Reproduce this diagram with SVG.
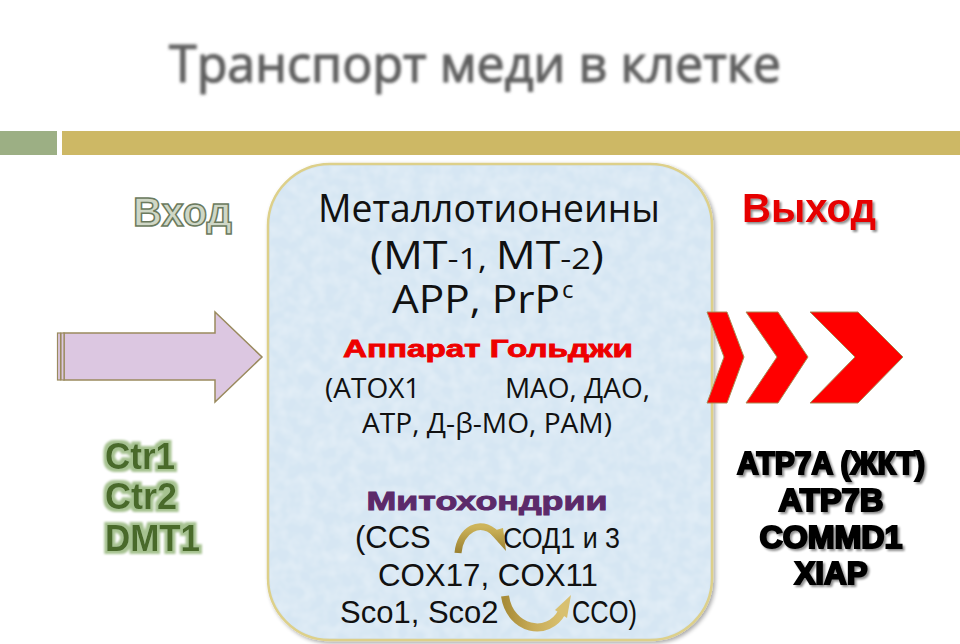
<svg xmlns="http://www.w3.org/2000/svg" width="960" height="644" viewBox="0 0 960 644">
<defs>
<filter id="blur" x="-5%" y="-20%" width="110%" height="140%"><feGaussianBlur stdDeviation="1.4"/></filter>
<filter id="shadow" x="-10%" y="-20%" width="130%" height="150%"><feGaussianBlur in="SourceAlpha" stdDeviation="1.2"/><feOffset dx="1.5" dy="1.5"/><feComponentTransfer><feFuncA type="linear" slope="0.45"/></feComponentTransfer><feMerge><feMergeNode/><feMergeNode in="SourceGraphic"/></feMerge></filter>
<filter id="glow" x="-10%" y="-20%" width="120%" height="140%"><feMorphology in="SourceAlpha" operator="dilate" radius="2.5" result="d"/><feGaussianBlur in="d" stdDeviation="1.2" result="b"/><feFlood flood-color="#a6c290"/><feComposite in2="b" operator="in"/><feMerge><feMergeNode/><feMergeNode in="SourceGraphic"/></feMerge></filter>
<filter id="boxsh" x="-5%" y="-5%" width="110%" height="110%"><feGaussianBlur in="SourceAlpha" stdDeviation="2"/><feOffset dx="2" dy="2"/><feComponentTransfer><feFuncA type="linear" slope="0.35"/></feComponentTransfer><feMerge><feMergeNode/><feMergeNode in="SourceGraphic"/></feMerge></filter>
<filter id="tex" x="0" y="0" width="100%" height="100%"><feTurbulence type="fractalNoise" baseFrequency="0.08" numOctaves="2" seed="3" result="n"/><feColorMatrix in="n" type="matrix" values="0 0 0 0 1  0 0 0 0 1  0 0 0 0 1  0 0 0 0.5 -0.15" result="w"/><feComposite in="w" in2="SourceGraphic" operator="in" result="wc"/><feMerge><feMergeNode in="SourceGraphic"/><feMergeNode in="wc"/></feMerge></filter>
<linearGradient id="gold" x1="0" y1="0" x2="0" y2="1"><stop offset="0" stop-color="#cdb45a"/><stop offset="1" stop-color="#9a8030"/></linearGradient>
<linearGradient id="gold2" x1="0" y1="0" x2="1" y2="0"><stop offset="0" stop-color="#a88c38"/><stop offset="0.5" stop-color="#c8ac58"/><stop offset="1" stop-color="#d8c070"/></linearGradient>
</defs>
<style>
.cal{font-family:"Open Sans","Noto Sans","DejaVu Sans",sans-serif;fill:#111}
.ar{font-family:"Liberation Sans",Arial,sans-serif;fill:#111}
.hv{font-family:"Liberation Sans",Arial,sans-serif;font-weight:bold}
.atp{font-family:"Liberation Sans",Arial,sans-serif;font-weight:bold;fill:#000;stroke:#000;stroke-width:2}
.ctr{font-family:"Liberation Sans",Arial,sans-serif;font-weight:bold;fill:#4a6a2c;font-size:36px}
.chev{fill:#ff0000;stroke:#a88a55;stroke-width:1}
</style>
<rect width="960" height="644" fill="#ffffff"/>
<g id="title">
<text x="475" y="82" text-anchor="middle" font-family="Open Sans, Noto Sans, sans-serif" font-size="52" fill="#5e5e5e" stroke="#5e5e5e" stroke-width="1.2" textLength="612" lengthAdjust="spacingAndGlyphs" filter="url(#blur)">Транспорт меди в клетке</text>
</g>
<g id="bars">
<rect x="0" y="131" width="57" height="24" fill="#9caf84"/>
<rect x="62" y="131" width="898" height="24" fill="#cdb865"/>
</g>
<g id="cell">
<rect x="268" y="164" width="444" height="476" rx="62" ry="62" fill="#d4e5f3" stroke="#ddd08a" stroke-width="2.5" filter="url(#boxsh)"/>
<rect x="270" y="166" width="440" height="472" rx="60" ry="60" fill="#d6e6f3" filter="url(#tex)"/>
<text class="cal" x="489" y="222" text-anchor="middle" font-size="38" textLength="342" lengthAdjust="spacingAndGlyphs">Металлотионеины</text>
<text class="cal" x="487" y="269" text-anchor="middle" font-size="39" textLength="234" lengthAdjust="spacingAndGlyphs">(МТ<tspan font-size="30">-1, </tspan>МТ<tspan font-size="30">-2</tspan>)</text>
<text class="cal" x="392" y="313" font-size="39" textLength="168" lengthAdjust="spacingAndGlyphs">APP, PrP</text>
<text class="cal" x="562" y="298" font-size="24">c</text>
<text class="hv" x="488" y="357" text-anchor="middle" font-size="23" fill="#ee0000" stroke="#ee0000" stroke-width="0.8" textLength="290" lengthAdjust="spacingAndGlyphs">Аппарат Гольджи</text>
<text class="cal" x="325" y="398" font-size="28">(АТОХ1</text>
<text class="cal" x="650" y="398" text-anchor="end" font-size="28">МАО, ДАО,</text>
<text class="cal" x="487" y="433" text-anchor="middle" font-size="28" textLength="250" lengthAdjust="spacingAndGlyphs">АТР, Д-β-МО, РАМ)</text>
<text class="hv" x="487" y="510" text-anchor="middle" font-size="25" fill="#5c2a6a" stroke="#5c2a6a" stroke-width="0.9" textLength="241" lengthAdjust="spacingAndGlyphs">Митохондрии</text>
<text class="ar" x="355" y="548" font-size="31">(CCS</text>
<text class="ar" x="620" y="548" text-anchor="end" font-size="30" textLength="117" lengthAdjust="spacingAndGlyphs">СОД1 и 3</text>
<text class="ar" x="488" y="586" text-anchor="middle" font-size="31" textLength="220" lengthAdjust="spacingAndGlyphs">COX17, COX11</text>
<text class="ar" x="340" y="623" font-size="31">Sco1, Sco2</text>
<text class="ar" x="637" y="623" text-anchor="end" font-size="31" textLength="65" lengthAdjust="spacingAndGlyphs">CCO)</text>
</g>
<g id="connectors">
<path d="M458 553 C460 530 480 518 496 534" fill="none" stroke="url(#gold)" stroke-width="7"/>
<polygon points="489,532 503,528 506,551" fill="url(#gold)"/>
<path d="M505 596 C510 630 548 638 562 612" fill="none" stroke="url(#gold2)" stroke-width="8"/>
<polygon points="555,610 567,618 571,595" fill="#d8c070"/>
</g>
<g id="entry">
<text class="hv" x="133" y="226" font-size="40" fill="#cfd7c6" stroke="#6b7a5e" stroke-width="1.5" textLength="99" lengthAdjust="spacingAndGlyphs">Вход</text>
<path d="M64 333 H215 V312 L262 357 L215 402 V380 H64 Z" fill="#dcc7e1" stroke="#9a8a5e" stroke-width="1.5"/>
<rect x="57.5" y="333" width="3" height="47" fill="#dcc7e1" stroke="#9a8a5e" stroke-width="1.2"/>
<rect x="61" y="333" width="3" height="47" fill="#dcc7e1" stroke="#9a8a5e" stroke-width="1.2"/>
<g filter="url(#glow)">
<text class="ctr" x="105" y="469" textLength="70" lengthAdjust="spacingAndGlyphs">Ctr1</text>
<text class="ctr" x="105" y="509" textLength="72" lengthAdjust="spacingAndGlyphs">Ctr2</text>
<text class="ctr" x="105" y="551" textLength="95" lengthAdjust="spacingAndGlyphs">DMT1</text>
</g>
</g>
<g id="exit">
<text class="hv" x="742" y="222" font-size="40" fill="#e60000" textLength="134" lengthAdjust="spacingAndGlyphs" filter="url(#shadow)">Выход</text>
<polygon class="chev" points="707,312 727,312 744,357 727,403 707,403 724,357"/>
<polygon class="chev" points="746,312 778,312 808,357 778,403 746,403 777,357"/>
<polygon class="chev" points="810,312 858,312 903,357 858,403 810,403 855,357"/>
<g filter="url(#shadow)">
<text class="atp" x="831" y="474" text-anchor="middle" font-size="31" textLength="188" lengthAdjust="spacingAndGlyphs">ATP7A (ЖКТ)</text>
<text class="atp" x="831" y="511" text-anchor="middle" font-size="31" textLength="105" lengthAdjust="spacingAndGlyphs">ATP7B</text>
<text class="atp" x="831" y="548" text-anchor="middle" font-size="31" textLength="143" lengthAdjust="spacingAndGlyphs">COMMD1</text>
<text class="atp" x="831" y="584" text-anchor="middle" font-size="31" textLength="73" lengthAdjust="spacingAndGlyphs">XIAP</text>
</g>
</g>
</svg>
